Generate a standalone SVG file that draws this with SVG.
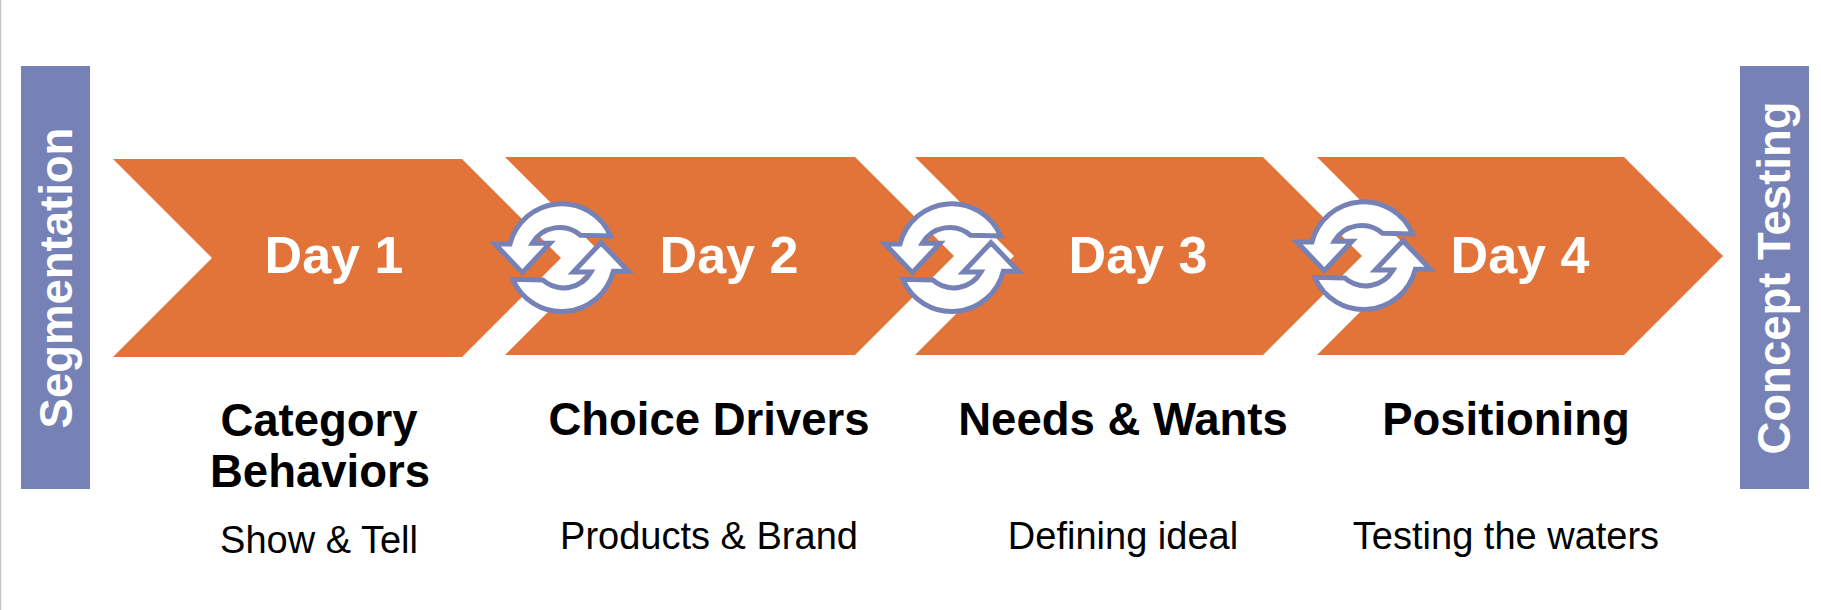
<svg xmlns="http://www.w3.org/2000/svg" width="1821" height="610" viewBox="0 0 1821 610">
<style>
.bar{fill:#7682b6}
.chev{fill:#e2743a}
.t{font-family:"Liberation Sans",Arial,sans-serif;text-anchor:middle}
.side{font-size:45.5px;font-weight:700;fill:#fff}
.day{font-size:52px;font-weight:700;fill:#fff}
.head{font-size:45.5px;font-weight:700;fill:#000}
.sub{font-size:38px;fill:#000}
.arr{fill:#fff;stroke:#7682b6;stroke-width:15;stroke-linejoin:miter}
</style>
<defs>
<g id="cycle">
<path id="half" class="arr" d="M75,192 L157,278 L240,190 L187,190 A95,95 0 0 1 332,166 L422,168 A160,160 0 0 0 120,192 Z"/>
<use href="#half" transform="rotate(180 275 233)"/>
</g>
</defs>
<rect x="0" y="0" width="1.2" height="610" fill="#c4c4c4"/>
<g id="segmentation"><rect class="bar" x="21" y="66" width="69" height="423"/><text class="t side" transform="translate(72 278) rotate(-90)">Segmentation</text></g>
<g id="concept-testing"><rect class="bar" x="1740" y="66" width="69" height="423"/><text class="t side" transform="translate(1790 278) rotate(-90)">Concept Testing</text></g>
<g id="day1"><polygon class="chev" points="113,159 462,159 561,258 462,357 113,357 212,258"/><text class="t day" x="334" y="273">Day 1</text></g>
<g id="day2"><polygon class="chev" points="505,157 855,157 954,256 855,355 505,355 604,256"/><text class="t day" x="729" y="273">Day 2</text></g>
<g id="day3"><polygon class="chev" points="915,157 1263,157 1362,256 1263,355 915,355 1014,256"/><text class="t day" x="1138" y="273">Day 3</text></g>
<g id="day4"><polygon class="chev" points="1317,157 1624,157 1723,256 1624,355 1317,355 1416,256"/><text class="t day" x="1520" y="273">Day 4</text></g>
<g id="connectors">
<use href="#cycle" transform="translate(470 180) scale(.3333)"/>
<use href="#cycle" transform="translate(860 180) scale(.3333)"/>
<use href="#cycle" transform="translate(1272 178) scale(.3333)"/>
</g>
<g id="label1"><text class="t head" x="319" y="436">Category</text><text class="t head" x="320" y="487">Behaviors</text><text class="t sub" x="319" y="553">Show &amp; Tell</text></g>
<g id="label2"><text class="t head" x="709" y="435">Choice Drivers</text><text class="t sub" x="709" y="549">Products &amp; Brand</text></g>
<g id="label3"><text class="t head" x="1123" y="435">Needs &amp; Wants</text><text class="t sub" x="1123" y="549">Defining ideal</text></g>
<g id="label4"><text class="t head" x="1506" y="435">Positioning</text><text class="t sub" x="1506" y="549">Testing the waters</text></g>
</svg>
